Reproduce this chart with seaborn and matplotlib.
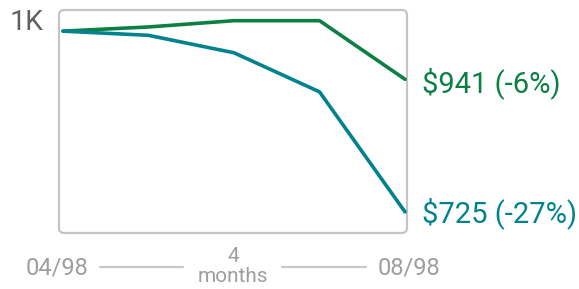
import pandas as pd
import matplotlib.pyplot as plt
import seaborn as sns
from matplotlib.patches import FancyBboxPatch
from matplotlib.lines import Line2D

# data (growth of 1K over months)
months = [0, 1, 2, 3, 4]
green_vals = [984, 990, 999, 999, 915]
teal_vals = [984, 978, 953, 897, 725]
end_labels = ['$941 (-6%)', '$725 (-27%)']
start_label = '04/98'
end_label = '08/98'
span_label = ['4', 'months']

GREEN = '#0b8043'
TEAL = '#00838f'
GRAY = '#9e9e9e'

df = pd.DataFrame({
    'month': months * 2,
    'value': green_vals + teal_vals,
    'series': ['green'] * 5 + ['teal'] * 5,
})

sns.set_style('white')
plt.rcParams['font.family'] = ['Roboto', 'DejaVu Sans']

fig = plt.figure(figsize=(5.79, 2.89), dpi=100)
ax = fig.add_axes([59 / 579, 1 - 233 / 289, 348 / 579, 223 / 289])

sns.lineplot(data=df, x='month', y='value', hue='series',
             palette={'green': GREEN, 'teal': TEAL},
             linewidth=2.6, legend=False, ax=ax)

ax.set_xlim(-0.047, 4.023)
ax.set_ylim(694.8, 1014.3)
ax.set_xticks([])
ax.set_yticks([1000])
ax.set_yticklabels(['1K'])
ax.tick_params(axis='y', length=0, pad=11, labelsize=20.5, labelcolor='#616161')
ax.set_xlabel('')
ax.set_ylabel('')
for s in ax.spines.values():
    s.set_visible(False)

box = FancyBboxPatch((0, 0), 1, 1, boxstyle='round,pad=0,rounding_size=0.015',
                     mutation_aspect=1.56, transform=ax.transAxes,
                     facecolor='none', edgecolor='#c4c4c4', linewidth=1.6,
                     clip_on=False, zorder=0)
ax.add_patch(box)

# end-of-line labels
for vals, lab, col, dy in [(green_vals, end_labels[0], GREEN, -3),
                           (teal_vals, end_labels[1], TEAL, -1)]:
    ax.annotate(lab, (months[-1], vals[-1]), xytext=(12, dy),
                textcoords='offset points', va='center', ha='left',
                fontsize=21, color=col, annotation_clip=False)

# bottom time span
fig.text(57 / 579, 1 - 268 / 289, start_label, ha='center', va='center',
         fontsize=17, color=GRAY)
fig.text(409 / 579, 1 - 268 / 289, end_label, ha='center', va='center',
         fontsize=17, color=GRAY)
fig.text(233 / 579, 1 - 256 / 289, span_label[0], ha='center', va='center',
         fontsize=15, color=GRAY)
fig.text(233 / 579, 1 - 276 / 289, span_label[1], ha='center', va='center',
         fontsize=15, color=GRAY)
yl = 1 - 267 / 289
for x0, x1 in [(100, 183), (282, 366)]:
    fig.add_artist(Line2D([x0 / 579, x1 / 579], [yl, yl], color='#c8c8c8',
                          linewidth=1.6, transform=fig.transFigure))

fig.savefig('out.png', dpi=100)
